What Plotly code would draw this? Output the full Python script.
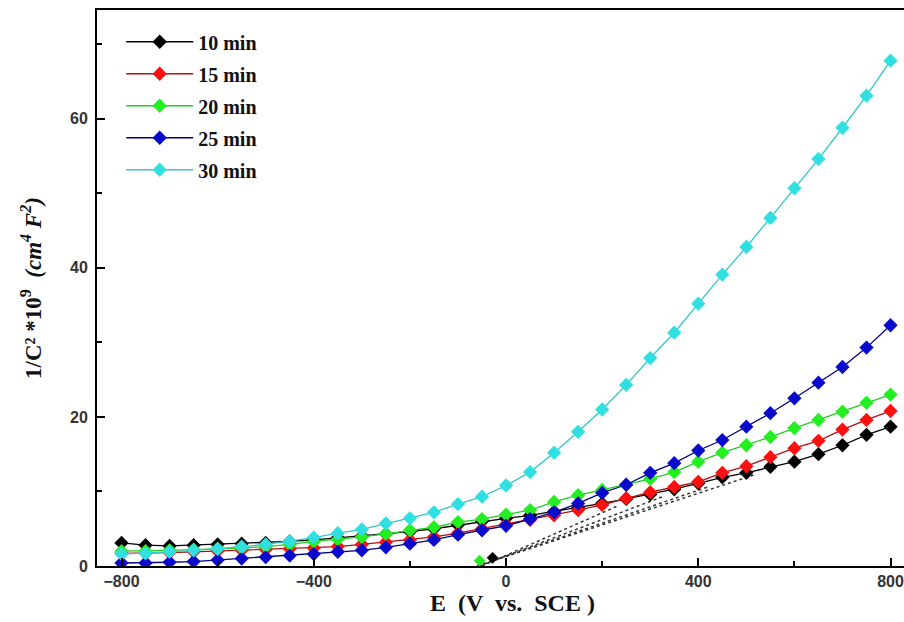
import plotly.graph_objects as go

# ---- data ----
E = [-800, -750, -700, -650, -600, -550, -500, -450, -400, -350, -300, -250, -200,
     -150, -100, -50, 0, 50, 100, 150, 200, 250, 300, 350, 400, 450, 500, 550,
     600, 650, 700, 750, 800]

c10 = [3.1, 2.8, 2.7, 2.8, 2.9, 3.0, 3.1, 3.3, 3.5, 3.8, 4.0, 4.3, 4.6, 5.0, 5.5, 6.0,
       6.4, 6.8, 7.3, 7.8, 8.4, 9.0, 9.6, 10.3, 11.1, 11.9, 12.5, 13.3, 14.0, 15.0,
       16.2, 17.6, 18.7]
c15 = [1.7, 1.7, 1.8, 1.9, 2.0, 2.1, 2.2, 2.3, 2.4, 2.6, 2.9, 3.2, 3.5, 3.9, 4.4, 5.0,
       5.6, 6.2, 6.8, 7.5, 8.2, 9.1, 9.9, 10.6, 11.3, 12.5, 13.4, 14.6, 15.8, 16.8,
       18.3, 19.6, 20.8]
c20 = [2.0, 2.0, 2.1, 2.2, 2.3, 2.4, 2.6, 2.9, 3.3, 3.6, 3.9, 4.3, 4.8, 5.2, 5.9, 6.3,
       6.9, 7.5, 8.6, 9.5, 10.2, 10.9, 11.7, 12.6, 14.0, 15.2, 16.2, 17.3, 18.5, 19.6,
       20.7, 21.9, 23.0]
c25 = [0.4, 0.4, 0.5, 0.6, 0.8, 1.0, 1.2, 1.4, 1.6, 1.9, 2.1, 2.5, 3.0, 3.5, 4.2, 4.8,
       5.4, 6.3, 7.2, 8.4, 9.8, 10.9, 12.5, 13.8, 15.5, 16.9, 18.7, 20.5, 22.5, 24.6,
       26.7, 29.3, 32.3]
c30 = [1.6, 1.7, 1.9, 2.1, 2.3, 2.6, 2.9, 3.3, 3.8, 4.4, 4.9, 5.7, 6.4, 7.2, 8.3, 9.3,
       10.8, 12.6, 15.2, 18.0, 21.0, 24.3, 27.9, 31.3, 35.2, 39.1, 42.8, 46.7, 50.7,
       54.6, 58.8, 63.1, 67.8]

series_names = ["10 min", "15 min", "20 min", "25 min", "30 min"]
series_values = [c10, c15, c20, c25, c30]
series_colors = ["#000000", "#ff1010", "#22ee22", "#0a0acc", "#30e0e0"]
line_colors = ["#000000", "#b01010", "#22cc22", "#000080", "#30c8c8"]

# extrapolated linear fits (dotted)
fit_x0 = [-60, -60, -55, -50]
fit_x1 = [520, 420, 330, 230]
fit_y0 = [0, 0, 0, 0]
fit_y1 = [12.3, 10.6, 9.4, 8.0]

# small intercept markers
icpt_x = [-55, -28]
icpt_y = [0.7, 1.1]
icpt_colors = ["#22ee22", "#000000"]

x_ticks = [-800, -400, 0, 400, 800]
y_ticks = [0, 20, 40, 60]

fig = go.Figure()

for a0, a1, b0, b1 in zip(fit_x0, fit_x1, fit_y0, fit_y1):
    fig.add_trace(go.Scatter(x=[a0, a1], y=[b0, b1], mode="lines",
                             line=dict(color="#333333", width=1.5, dash="dot"),
                             showlegend=False, hoverinfo="skip"))

for i, (nm, vals, col, lc) in enumerate(zip(series_names, series_values, series_colors, line_colors)):
    fig.add_trace(go.Scatter(
        x=E, y=vals, mode="lines+markers", name=nm, legendgroup=str(i),
        line=dict(color=lc, width=1.3),
        marker=dict(symbol="diamond", size=11, color=col,
                    line=dict(color=col, width=0)),
    ))

for xx, yy, cc in zip(icpt_x, icpt_y, icpt_colors):
    fig.add_trace(go.Scatter(x=[xx], y=[yy], mode="markers",
                             marker=dict(symbol="diamond", size=9, color=cc),
                             showlegend=False, hoverinfo="skip"))

tickfont = dict(family="Liberation Sans", size=16, color="#333333", weight="bold")
xtitlefont = dict(family="Liberation Serif", size=24, color="#111111", weight="bold")
ytitlefont = dict(family="Liberation Serif", size=23, color="#111111", weight="bold")

fig.update_layout(
    width=904, height=622,
    margin=dict(l=97, r=0, t=10, b=56, autoexpand=False),
    paper_bgcolor="white", plot_bgcolor="white",
    showlegend=True,
    legend=dict(x=0.03, y=0.978, xanchor="left", yanchor="top",
                font=dict(family="Liberation Serif", size=20, color="#111111", weight="bold"),
                bgcolor="rgba(0,0,0,0)", tracegroupgap=3, itemwidth=67),
    xaxis=dict(range=[-851, 828], tickvals=x_ticks, ticks="inside", ticklen=8,
               tickwidth=1.5, tickcolor="black",
               minor=dict(tickvals=[-600, -200, 200, 600], ticks="inside", ticklen=5,
                          tickwidth=1.5, tickcolor="black"),
               showline=True, linecolor="black", linewidth=2, mirror=True,
               showgrid=False, zeroline=False, tickfont=tickfont,
               title=dict(text="&nbsp;&nbsp;&nbsp;&nbsp;E  (V  vs.  SCE )", font=xtitlefont, standoff=0)),
    yaxis=dict(range=[0, 74.6], tickvals=y_ticks, ticks="inside", ticklen=8,
               tickwidth=1.5, tickcolor="black",
               minor=dict(tickvals=[10, 30, 50, 70], ticks="inside", ticklen=5,
                          tickwidth=1.5, tickcolor="black"),
               showline=True, linecolor="black", linewidth=2, mirror=False,
               showgrid=False, zeroline=False, tickfont=tickfont, ticklabelstandoff=4,
               title=dict(text="1/C² *10<sup>9</sup>  <i>(cm<sup>4</sup> F<sup>2</sup>)</i>",
                          font=ytitlefont, standoff=22)),
)

fig.write_html("out.html", config={"displayModeBar": False},
               post_script="document.body.style.margin='0';document.body.style.overflow='hidden';")
